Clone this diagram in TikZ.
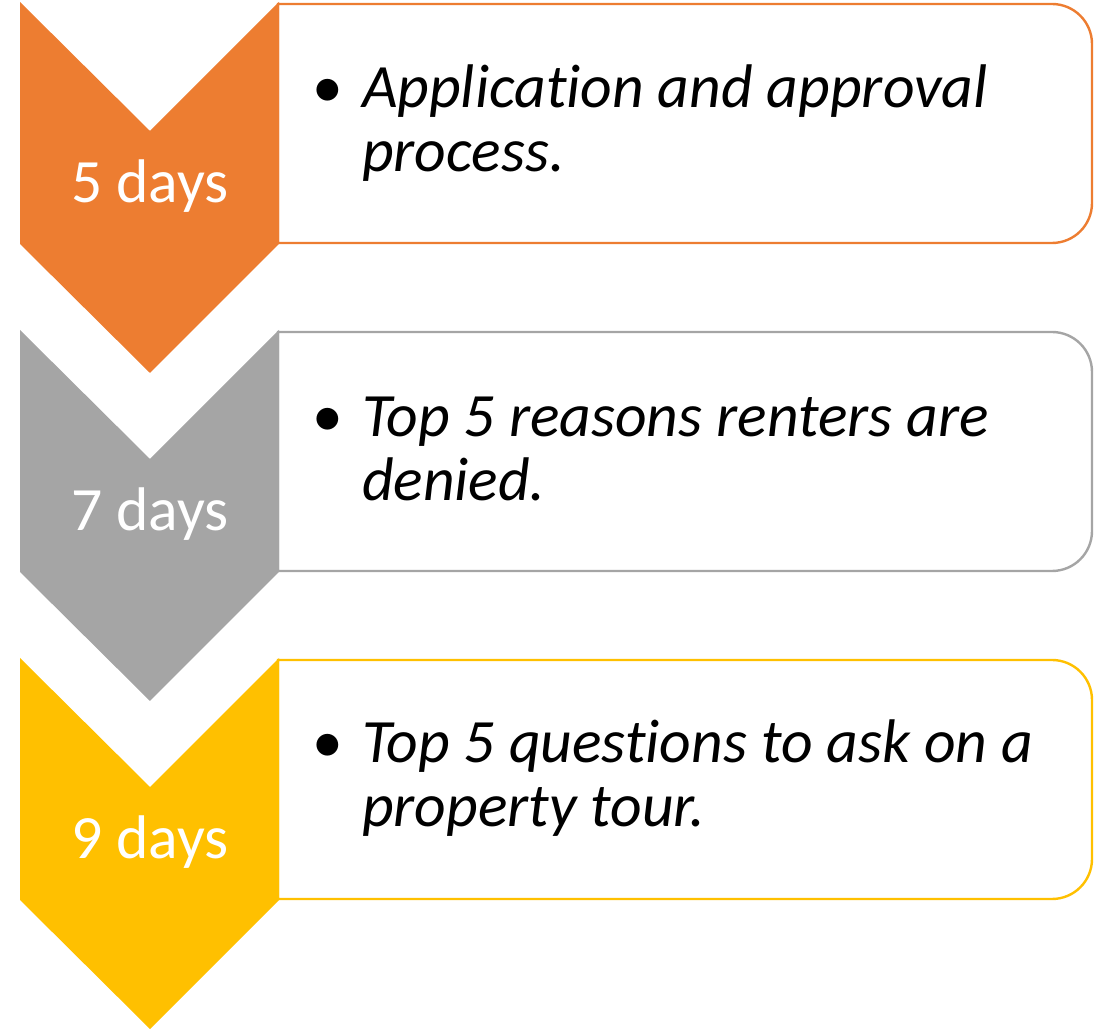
\documentclass[tikz,border=0pt]{standalone}
\usepackage{fontspec}
\setmainfont{Carlito}[Ligatures=NoCommon]
\usetikzlibrary{positioning}
\definecolor{stepOrange}{HTML}{ED7D31}
\definecolor{stepGray}{HTML}{A5A5A5}
\definecolor{stepGold}{HTML}{FFC000}

\begin{document}
\begin{tikzpicture}[
  x=0.5pt, y=-0.5pt,
  every node/.style={inner sep=0pt, outer sep=0pt},
  chev/.style={draw=none},
  cOrange/.style={chev, fill=stepOrange},
  cGray/.style={chev, fill=stepGray},
  cGold/.style={chev, fill=stepGold},
  box/.style={fill=white, line width=1.2pt},
  bOrange/.style={box, draw=stepOrange},
  bGray/.style={box, draw=stepGray},
  bGold/.style={box, draw=stepGold},
  days/.style={white, anchor=base, font=\fontsize{30.8pt}{36pt}\selectfont},
  item/.style={anchor=base west, align=left, font=\fontsize{30.8pt}{32pt}\selectfont\itshape},
  bul/.style={anchor=base, font=\fontsize{30.8pt}{32pt}\selectfont}
]
  \useasboundingbox (0,0) rectangle (1104,1031);

  %% ---- step 1 -------------------------------------------------------
  \draw[bOrange] (278,4) -- (1052,4) arc[start angle=90, end angle=0, radius=20pt]
    -- (1092,203) arc[start angle=0, end angle=-90, radius=20pt] -- (278,243) -- cycle;
  \fill[cOrange] (20,2) -- (150,131) -- (279,2) -- (279,244) -- (150,373) -- (20,244) -- cycle;
  \node[days] (dFive) at (150,203) {5 days};
  \node[item] (tFive) at (362,172) {Application and approval\\process.};
  \node[bul] (bFive) at (328,108) {•};

  %% ---- step 2 -------------------------------------------------------
  \draw[bGray] (278,332) -- (1052,332) arc[start angle=90, end angle=0, radius=20pt]
    -- (1092,531) arc[start angle=0, end angle=-90, radius=20pt] -- (278,571) -- cycle;
  \fill[cGray] (20,330) -- (150,459) -- (279,330) -- (279,572) -- (150,701) -- (20,572) -- cycle;
  \node[days] (dSeven) at (150,531) {7 days};
  \node[item] (tSeven) at (362,501) {Top 5 reasons renters are\\denied.};
  \node[bul] (bSeven) at (328,437) {•};

  %% ---- step 3 -------------------------------------------------------
  \draw[bGold] (278,660) -- (1052,660) arc[start angle=90, end angle=0, radius=20pt]
    -- (1092,859) arc[start angle=0, end angle=-90, radius=20pt] -- (278,899) -- cycle;
  \fill[cGold] (20,658) -- (150,787) -- (279,658) -- (279,900) -- (150,1029) -- (20,900) -- cycle;
  \node[days] (dNine) at (150,859) {9 days};
  \node[item] (tNine) at (362,827) {Top 5 questions to ask on a\\property tour.};
  \node[bul] (bNine) at (328,763) {•};

\end{tikzpicture}
\end{document}
